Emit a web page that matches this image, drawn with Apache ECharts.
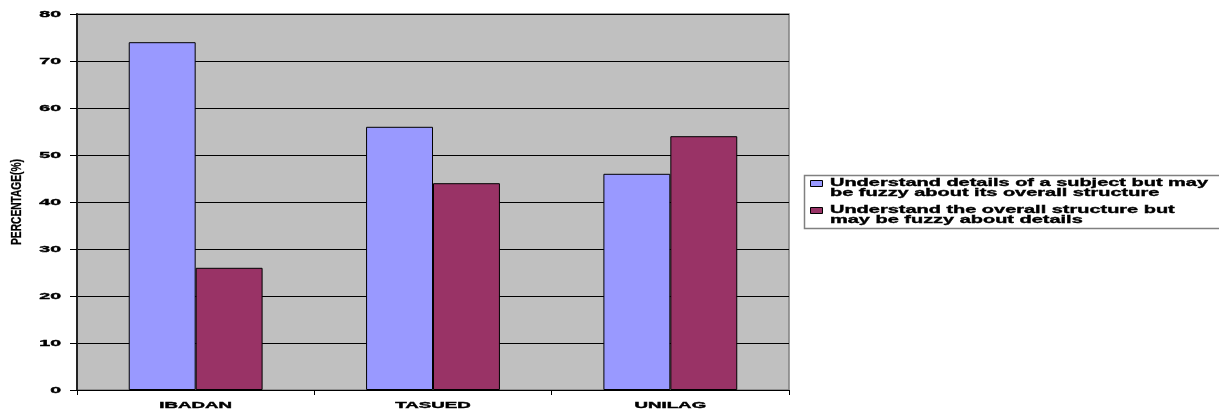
<!DOCTYPE html>
<html><head><meta charset="utf-8">
<script src="https://cdn.jsdelivr.net/npm/echarts@6/dist/echarts.min.js"></script>
<style>html,body{margin:0;padding:0;background:#fff}#c{width:1219px;height:412px}</style>
</head><body><div id="c"></div>
<script>
var categories = ['IBADAN', 'TASUED', 'UNILAG'];
var seriesNames = ['Understand details of a subject but may\nbe fuzzy about its overall structure',
                   'Understand the overall structure but\nmay be fuzzy about details'];
var detailsValues = [74, 56, 46];
var structureValues = [26, 44, 54];
var yTicks = [0, 10, 20, 30, 40, 50, 60, 70, 80];
var yAxisTitle = 'PERCENTAGE(%)';
var seriesColors = ['#9999FF', '#993366'];

var FONT = 'Liberation Sans, Arial, sans-serif';
var GRID_LEFT = 77, GRID_TOP = 14, GRID_RIGHT = 430, GRID_BOTTOM = 22;

var chart = echarts.init(document.getElementById('c'), null, {renderer: 'canvas'});
chart.setOption({
  animation: false,
  backgroundColor: '#fff',
  grid: {left: GRID_LEFT, top: GRID_TOP, right: GRID_RIGHT, bottom: GRID_BOTTOM, show: true,
         backgroundColor: '#C0C0C0', borderColor: '#808080', borderWidth: 1.5},
  xAxis: {
    type: 'category', data: categories,
    axisLine: {lineStyle: {color: '#000', width: 1}},
    axisTick: {show: true, length: 5, lineStyle: {color: '#000'}},
    axisLabel: {show: false},
    splitLine: {show: false}
  },
  yAxis: {
    type: 'value', min: yTicks[0], max: yTicks[yTicks.length - 1], interval: 10,
    axisLine: {show: true, lineStyle: {color: '#222', width: 2}},
    axisTick: {show: true, length: 7, lineStyle: {color: '#000'}},
    axisLabel: {show: false},
    splitLine: {show: true, lineStyle: {color: '#000', width: 1}}
  },
  series: [
    {name: seriesNames[0], type: 'bar', data: detailsValues, barWidth: '28.2%', barGap: '0%',
     itemStyle: {color: seriesColors[0], borderColor: '#000', borderWidth: 1}},
    {name: seriesNames[1], type: 'bar', data: structureValues, barWidth: '28.2%', barGap: '0%',
     itemStyle: {color: seriesColors[1], borderColor: '#000', borderWidth: 1}}
  ]
});

// Wide (horizontally stretched) labels, placed through the library's own scales
var g = [];
var txt = function (extra) {
  return Object.assign({fontFamily: FONT, fontWeight: 'bold', fill: '#000', stroke: '#000', lineWidth: 0.35}, extra);
};
yTicks.forEach(function (v) {
  var py = chart.convertToPixel({yAxisIndex: 0}, v);
  g.push({type: 'text', x: GRID_LEFT - 16, y: py + 0.5, scaleX: 2.3, silent: true,
    style: txt({text: String(v), align: 'right', verticalAlign: 'middle', fontSize: 8.5})});
});
var baseY = chart.convertToPixel({yAxisIndex: 0}, yTicks[0]);
var topY = chart.convertToPixel({yAxisIndex: 0}, yTicks[yTicks.length - 1]);
categories.forEach(function (c) {
  var px = chart.convertToPixel({xAxisIndex: 0}, c);
  g.push({type: 'text', x: px, y: baseY + 15.5, scaleX: 2.2, silent: true,
    style: txt({text: c, align: 'center', verticalAlign: 'middle', fontSize: 8.5})});
});
// y-axis title (rotated)
g.push({type: 'text', x: 17, y: (baseY + topY) / 2, rotation: Math.PI / 2, scaleY: 1.35, silent: true,
  style: txt({text: yAxisTitle, align: 'center', verticalAlign: 'middle', fontSize: 10.2,
              fontFamily: 'Liberation Sans Narrow, Arial Narrow, sans-serif', lineWidth: 0.2})});
// legend box
g.push({type: 'rect', shape: {x: 804.5, y: 175.5, width: 500, height: 53}, silent: true,
  style: {fill: '#fff', stroke: '#808080', lineWidth: 1.5}});
seriesNames.forEach(function (n, i) {
  var top = 180 + i * 27;
  g.push({type: 'rect', shape: {x: 810.5, y: top + 0.5, width: 12, height: 6}, silent: true,
    style: {fill: seriesColors[i], stroke: '#000', lineWidth: 1}});
  g.push({type: 'text', x: 830, y: top - 2, scaleX: 1.9, silent: true,
    style: txt({text: n, align: 'left', verticalAlign: 'top', lineHeight: 10, fontSize: 10.5})});
});
chart.setOption({graphic: g});
</script></body></html>
